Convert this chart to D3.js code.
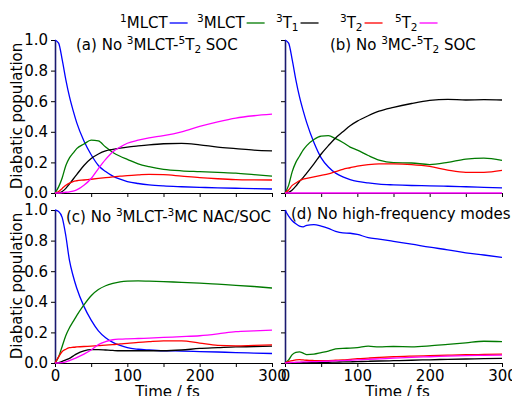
<!DOCTYPE html>
<html>
<head>
<meta charset="utf-8">
<script src="https://cdn.jsdelivr.net/npm/d3@7"></script>
<style>
  body { margin: 0; background: #fff; }
  svg text { font-family: "DejaVu Sans", sans-serif; fill: #000; }
</style>
</head>
<body>
<svg id="chart" width="512" height="396"></svg>
<script>
// time grid (fs) shared by all runs
const times = [0, 5, 10, 15, 20, 25, 30, 40, 50, 60, 70, 80, 90, 100, 115, 130, 150, 175, 200, 225, 250, 275, 300];

const xTicks = [0, 50, 100, 150, 200, 250, 300];
const xTickLabels = ["0", "", "100", "", "200", "", "300"];
const yTicks = [0, 0.2, 0.4, 0.6, 0.8, 1.0];

// (a) No 3MLCT-5T2 SOC
const a_1MLCT = [1.0, 0.98, 0.87, 0.74, 0.63, 0.54, 0.46, 0.34, 0.25, 0.18, 0.14, 0.11, 0.09, 0.075, 0.062, 0.053, 0.046, 0.041, 0.037, 0.034, 0.031, 0.028, 0.026];
const a_3MLCT = [0, 0.04, 0.10, 0.18, 0.23, 0.26, 0.29, 0.32, 0.345, 0.34, 0.30, 0.265, 0.24, 0.22, 0.19, 0.172, 0.155, 0.145, 0.14, 0.135, 0.13, 0.12, 0.11];
const a_3T1 = [0, 0.0, 0.01, 0.03, 0.06, 0.09, 0.12, 0.18, 0.225, 0.255, 0.275, 0.285, 0.293, 0.30, 0.308, 0.315, 0.322, 0.325, 0.315, 0.30, 0.29, 0.28, 0.275];
const a_3T2 = [0, 0.01, 0.03, 0.05, 0.065, 0.075, 0.08, 0.085, 0.09, 0.095, 0.10, 0.105, 0.11, 0.113, 0.118, 0.122, 0.12, 0.11, 0.10, 0.093, 0.088, 0.086, 0.085];
const a_5T2 = [0, 0, 0.002, 0.005, 0.008, 0.012, 0.02, 0.05, 0.095, 0.16, 0.22, 0.27, 0.30, 0.325, 0.345, 0.36, 0.375, 0.40, 0.435, 0.465, 0.49, 0.505, 0.515];

// (b) No 3MC-5T2 SOC
const b_1MLCT = [1.0, 0.98, 0.87, 0.74, 0.63, 0.54, 0.46, 0.33, 0.23, 0.17, 0.13, 0.105, 0.088, 0.076, 0.066, 0.058, 0.053, 0.049, 0.047, 0.044, 0.041, 0.037, 0.033];
const b_3MLCT = [0, 0.05, 0.14, 0.20, 0.24, 0.28, 0.31, 0.35, 0.372, 0.375, 0.355, 0.33, 0.30, 0.28, 0.245, 0.215, 0.198, 0.196, 0.186, 0.20, 0.222, 0.228, 0.213];
const b_3T1 = [0, 0.005, 0.02, 0.045, 0.075, 0.10, 0.13, 0.19, 0.255, 0.31, 0.36, 0.40, 0.44, 0.47, 0.505, 0.535, 0.56, 0.585, 0.605, 0.612, 0.608, 0.61, 0.608];
const b_3T2 = [0, 0.02, 0.05, 0.065, 0.08, 0.09, 0.095, 0.105, 0.115, 0.125, 0.14, 0.155, 0.165, 0.175, 0.185, 0.19, 0.19, 0.186, 0.174, 0.15, 0.135, 0.135, 0.148];
const b_5T2 = [0, 0, 0, 0, 0, 0, 0, 0, 0, 0, 0, 0, 0, 0, 0, 0, 0, 0, 0, 0, 0, 0, 0];

// (c) No 3MLCT-3MC NAC/SOC
const c_1MLCT = [1.0, 0.99, 0.95, 0.83, 0.67, 0.57, 0.49, 0.37, 0.28, 0.21, 0.165, 0.135, 0.115, 0.10, 0.09, 0.085, 0.08, 0.078, 0.075, 0.072, 0.068, 0.065, 0.062];
const c_3MLCT = [0, 0.04, 0.11, 0.18, 0.23, 0.27, 0.31, 0.38, 0.44, 0.48, 0.505, 0.52, 0.53, 0.535, 0.537, 0.535, 0.532, 0.527, 0.522, 0.515, 0.508, 0.50, 0.49];
const c_3T1 = [0, 0.003, 0.01, 0.02, 0.03, 0.045, 0.06, 0.08, 0.088, 0.088, 0.085, 0.082, 0.08, 0.08, 0.08, 0.08, 0.08, 0.085, 0.095, 0.10, 0.105, 0.107, 0.11];
const c_3T2 = [0, 0.04, 0.075, 0.09, 0.10, 0.103, 0.105, 0.108, 0.11, 0.113, 0.117, 0.12, 0.125, 0.128, 0.135, 0.14, 0.145, 0.145, 0.13, 0.115, 0.112, 0.115, 0.118];
const c_5T2 = [0, 0, 0.003, 0.008, 0.015, 0.025, 0.035, 0.058, 0.085, 0.12, 0.14, 0.152, 0.156, 0.158, 0.16, 0.163, 0.167, 0.172, 0.178, 0.19, 0.205, 0.21, 0.215];

// (d) No high-frequency modes
const d_1MLCT = [1.0, 0.96, 0.93, 0.91, 0.895, 0.89, 0.90, 0.905, 0.895, 0.88, 0.86, 0.85, 0.848, 0.84, 0.82, 0.81, 0.795, 0.777, 0.757, 0.74, 0.72, 0.706, 0.69];
const d_3MLCT = [0, 0.02, 0.055, 0.07, 0.073, 0.065, 0.055, 0.058, 0.068, 0.078, 0.092, 0.096, 0.097, 0.10, 0.11, 0.105, 0.108, 0.106, 0.112, 0.122, 0.132, 0.142, 0.14];
const d_3T1 = [0, 0, 0, 0.001, 0.001, 0.002, 0.002, 0.003, 0.004, 0.005, 0.006, 0.007, 0.008, 0.009, 0.011, 0.013, 0.015, 0.018, 0.021, 0.024, 0.026, 0.028, 0.03];
const d_3T2 = [0, 0.01, 0.015, 0.02, 0.022, 0.02, 0.018, 0.016, 0.015, 0.016, 0.018, 0.02, 0.024, 0.028, 0.032, 0.036, 0.041, 0.045, 0.048, 0.051, 0.054, 0.056, 0.058];
const d_5T2 = [0, 0.002, 0.004, 0.005, 0.006, 0.007, 0.008, 0.009, 0.01, 0.012, 0.014, 0.016, 0.018, 0.02, 0.024, 0.027, 0.032, 0.037, 0.041, 0.045, 0.048, 0.05, 0.052];

// state labels as [text, script] pieces, plus line colours
const states = [
  { label: [["1", "sup"], ["MLCT", null]], color: "#0000ff" },
  { label: [["3", "sup"], ["MLCT", null]], color: "#007a00" },
  { label: [["3", "sup"], ["T", null], ["1", "sub"]], color: "#000000" },
  { label: [["3", "sup"], ["T", null], ["2", "sub"]], color: "#ff0000" },
  { label: [["5", "sup"], ["T", null], ["2", "sub"]], color: "#ff00ff" }
];

const panels = [
  { x: 55, y: 40, title: [["(a) No ", null], ["3", "sup"], ["MLCT-", null], ["5", "sup"], ["T", null], ["2", "sub"], [" SOC", null]],
    tx: 76, ty: 50, yLabels: true, xLabels: false,
    series: [a_1MLCT, a_3MLCT, a_3T1, a_3T2, a_5T2] },
  { x: 285, y: 40, title: [["(b) No ", null], ["3", "sup"], ["MC-", null], ["5", "sup"], ["T", null], ["2", "sub"], [" SOC", null]],
    tx: 330, ty: 50, yLabels: false, xLabels: false,
    series: [b_1MLCT, b_3MLCT, b_3T1, b_3T2, b_5T2] },
  { x: 55, y: 210, title: [["(c) No ", null], ["3", "sup"], ["MLCT-", null], ["3", "sup"], ["MC NAC/SOC", null]],
    tx: 66, ty: 222, yLabels: true, xLabels: true,
    series: [c_1MLCT, c_3MLCT, c_3T1, c_3T2, c_5T2] },
  { x: 285, y: 210, title: [["(d) No high-frequency modes", null]],
    tx: 291, ty: 219, yLabels: false, xLabels: true,
    series: [d_1MLCT, d_3MLCT, d_3T1, d_3T2, d_5T2] }
];

const pw = 217, ph = 153;
const fs = 15;
const svg = d3.select("#chart");

// writes text with superscript / subscript pieces
function richText(sel, parts, size) {
  let shift = 0;
  parts.forEach(([s, kind]) => {
    const target = kind === "sup" ? -0.38 * size : kind === "sub" ? 0.22 * size : 0;
    sel.append("tspan")
      .attr("dy", target - shift)
      .attr("font-size", kind ? size * 0.7 : size)
      .text(s);
    shift = target;
  });
  return sel;
}

panels.forEach(p => {
  const x = d3.scaleLinear().domain([0, 300]).range([0, pw]);
  const y = d3.scaleLinear().domain([0, 1]).range([ph, 0]);
  const g = svg.append("g").attr("transform", `translate(${p.x},${p.y})`);

  // bottom axis
  const xAxis = g.append("g")
    .attr("transform", `translate(0,${ph})`)
    .call(d3.axisBottom(x).tickValues(xTicks).tickSize(4).tickPadding(3)
      .tickFormat((d, i) => p.xLabels ? xTickLabels[i] : ""));
  xAxis.select(".domain").attr("stroke", "#000").attr("stroke-width", 1.2)
    .attr("d", `M0,0.5H${pw}`);
  xAxis.selectAll("text").attr("font-size", fs).attr("font-family", "DejaVu Sans").attr("fill", "#000");

  // left axis
  const yAxis = g.append("g")
    .call(d3.axisLeft(y).tickValues(yTicks).tickSize(4).tickPadding(3)
      .tickFormat(d => p.yLabels ? d3.format(".1f")(d) : ""));
  yAxis.select(".domain").attr("stroke", "#1a1a70").attr("stroke-width", 1.6)
    .attr("d", `M0.5,0V${ph}`);
  yAxis.selectAll("text").attr("font-size", fs).attr("font-family", "DejaVu Sans").attr("fill", "#000");

  // population curves
  const line = d3.line()
    .x((d, i) => x(times[i]))
    .y(d => y(d))
    .curve(d3.curveMonotoneX);
  p.series.forEach((vals, k) => {
    g.append("path")
      .datum(vals)
      .attr("fill", "none")
      .attr("stroke", states[k].color)
      .attr("stroke-width", 1.3)
      .attr("d", line);
  });

  // panel title
  richText(svg.append("text").attr("x", p.tx).attr("y", p.ty), p.title, fs);
});

// axis labels
[116, 286].forEach(cy => {
  svg.append("text")
    .attr("transform", `translate(22,${cy}) rotate(-90)`)
    .attr("text-anchor", "middle")
    .attr("font-size", fs)
    .text("Diabatic population");
});
[55 + pw / 2, 285 + pw / 2].forEach(cx => {
  svg.append("text")
    .attr("x", cx + 4)
    .attr("y", 397)
    .attr("text-anchor", "middle")
    .attr("font-size", fs)
    .text("Time / fs");
});

// legend: label first, then line sample
const legendX = [120, 197, 276, 340, 395];
states.forEach((s, i) => {
  const t = richText(svg.append("text").attr("x", legendX[i]).attr("y", 28), s.label, fs);
  const w = t.node().getComputedTextLength();
  svg.append("line")
    .attr("x1", legendX[i] + w + 2).attr("x2", legendX[i] + w + 20)
    .attr("y1", 23).attr("y2", 23)
    .attr("stroke", s.color).attr("stroke-width", 1.3);
});
</script>
</body>
</html>
